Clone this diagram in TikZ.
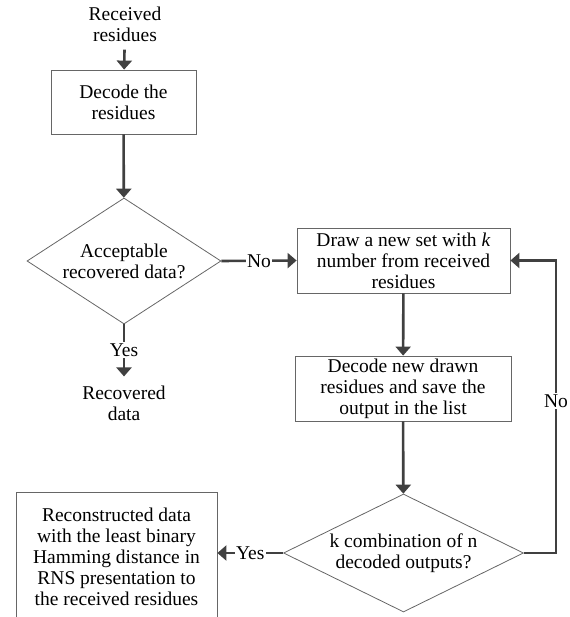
\documentclass[tikz,border=0pt]{standalone}
\usepackage{fontspec}
\setmainfont{LiberationSerif}[Extension=.ttf, UprightFont=*-Regular, ItalicFont=*-Italic, BoldFont=*-Bold]
\usetikzlibrary{shapes.geometric,arrows.meta}
\tikzset{
  txt/.style={font=\fontsize{19.5}{21}\selectfont, align=center},
  blk/.style={txt, draw=black!60, line width=0.8pt, inner sep=1pt},
  dec/.style={txt, diamond, draw=black!60, line width=0.8pt, inner sep=1pt},
  arr/.style={draw=black!75, line width=2.6pt, -{Triangle[width=15pt,length=9pt]}},
  lbl/.style={txt, fill=white, inner sep=1.5pt}
}
\begin{document}
\begin{tikzpicture}[x=1pt,y=-1pt]
\useasboundingbox (0,0) rectangle (569,617);
\clip (0,0) rectangle (569,617);
% left column
\node[txt, inner sep=8pt] (rcv) at (125,24) {Received\\residues};
\node[blk, minimum width=145pt, minimum height=64pt] (dec1) at (123.5,102) {Decode the\\residues};
\node[dec, aspect=1.54, minimum width=194pt, minimum height=126pt] (ok) at (124,261) {Acceptable\\recovered data?};
\node[txt, inner sep=9pt] (rec) at (124,403) {Recovered\\data};
% right column
\node[blk, minimum width=213pt, minimum height=65pt] (draw) at (403.5,260.5) {Draw a new set with \textit{k}\\number from received\\residues};
\node[blk, minimum width=216pt, minimum height=65pt] (dec2) at (403,388.5) {Decode new drawn\\residues and save the\\output in the list};
\node[dec, aspect=2.03, minimum width=240pt, minimum height=118pt] (comb) at (403.5,553) {k combination of n\\decoded outputs?};
\node[blk, minimum width=201pt, minimum height=130pt] (out) at (116.5,557) {Reconstructed data\\with the least binary\\Hamming distance in\\RNS presentation to\\the received residues};
\coordinate (loop) at (556,553);
% connectors
\draw[arr] (rcv) -- (dec1);
\draw[arr] (dec1) -- (ok);
\draw[arr] (ok.east) -- node[lbl]{No} (draw.west);
\draw[arr] (ok.south) -- node[lbl]{Yes} (rec.north);
\draw[arr] (draw) -- (dec2);
\draw[arr] (dec2) -- (comb);
\draw[arr] (comb.west) -- node[lbl]{Yes} (comb.west -| out.east);
\draw[arr] (comb.east) -- (loop) |- node[lbl, pos=0.26]{No} (draw.east);
\end{tikzpicture}
\end{document}
